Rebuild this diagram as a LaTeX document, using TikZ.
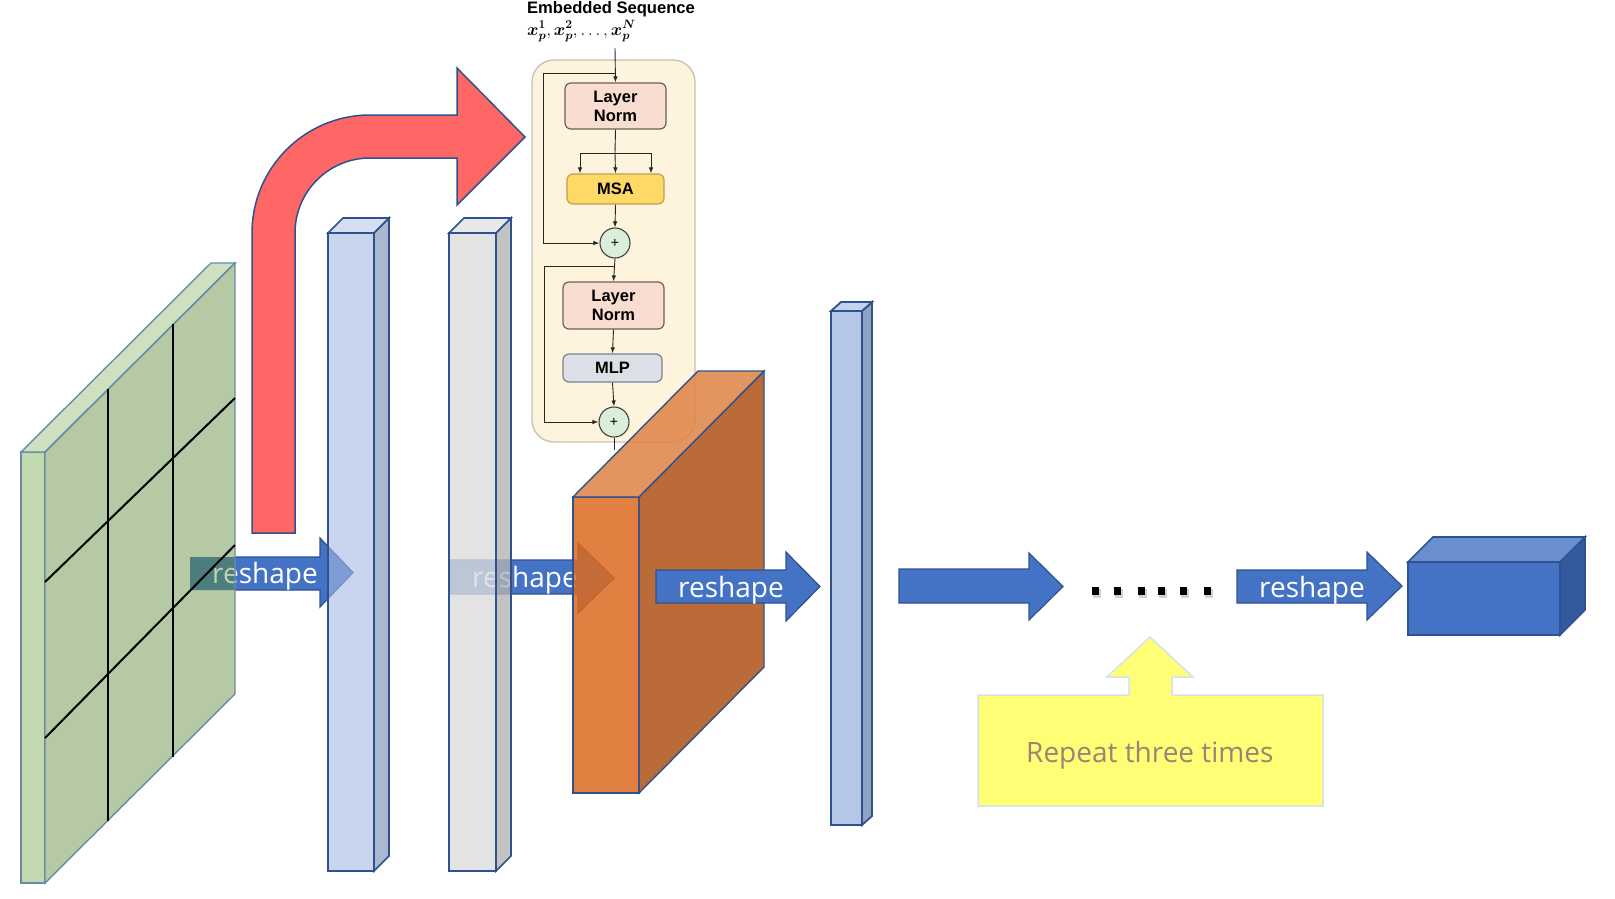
\documentclass[tikz,border=0pt]{standalone}
\usepackage{amsmath,bm}
\usepackage{fontspec}
\setmainfont{Open Sans}
\newfontfamily\osfont{Open Sans}
\newfontfamily\arialf{Liberation Sans}
\usetikzlibrary{arrows.meta}

\definecolor{edgeblue}{RGB}{47,82,143}
\definecolor{arrowblue}{RGB}{68,114,196}
\definecolor{redfill}{RGB}{255,102,102}
\definecolor{gfront}{RGB}{193,217,172}
\definecolor{gside}{RGB}{181,202,164}
\definecolor{gtop}{RGB}{205,225,190}
\definecolor{gedge}{RGB}{106,138,170}
\definecolor{tealc}{RGB}{78,125,125}
\definecolor{retext}{RGB}{192,212,178}
\definecolor{b1front}{RGB}{165,185,227}
\definecolor{b1side}{RGB}{118,138,175}
\definecolor{b1top}{RGB}{187,202,232}
\definecolor{gyfront}{RGB}{220,220,220}
\definecolor{gyside}{RGB}{180,180,180}
\definecolor{gytop}{RGB}{227,227,227}
\definecolor{ofront}{RGB}{220,106,31}
\definecolor{oside}{RGB}{174,82,21}
\definecolor{otop}{RGB}{223,131,68}
\definecolor{b3front}{RGB}{180,199,231}
\definecolor{b3side}{RGB}{143,163,199}
\definecolor{b3top}{RGB}{197,212,237}
\definecolor{fbtop}{RGB}{106,143,208}
\definecolor{fbside}{RGB}{51,90,158}
\definecolor{yellowc}{RGB}{255,255,117}
\definecolor{yedge}{RGB}{215,225,235}
\definecolor{reptext}{RGB}{158,130,120}
\definecolor{blockfill}{RGB}{254,243,221}
\definecolor{blockedge}{RGB}{200,195,185}
\definecolor{lnfill}{RGB}{248,221,208}
\definecolor{lnedge}{RGB}{110,95,90}
\definecolor{msafill}{RGB}{255,217,102}
\definecolor{msaedge}{RGB}{190,160,80}
\definecolor{mlpfill}{RGB}{220,224,230}
\definecolor{mlpedge}{RGB}{120,130,150}
\definecolor{plusfill}{RGB}{218,238,218}

% style-carrying prism: #1 front, #2 side, #3 top, x1 y1 x2 y2 dx dy
\newcommand\mkprism[9]{%
  \path[#1] (#4,#5) rectangle (#6,#7);
  \path[#2] (#6,#5) -- ++(#8,#9) -- ++(0,{#7-#5}) -- (#6,#7) -- cycle;
  \path[#3] (#4,#5) -- (#6,#5) -- ++(#8,#9) -- ++({#4-#6},0) -- cycle;}
% block arrow: style, x0, xhead, xtip, body top, body bottom, head top, head bottom
\newcommand\fatarr[8]{%
  \path[#1] (#2,#5) -- (#3,#5) -- (#3,#7) -- (#4,{(#7+#8)/2}) -- (#3,#8) -- (#3,#6) -- (#2,#6) -- cycle;}

\tikzset{
  bluearrow/.style={fill=arrowblue, draw=edgeblue, line width=1.2pt, line join=miter},
  rs/.style={font=\osfont\fontsize{28}{28}\selectfont, text=white, inner sep=0pt, anchor=base west},
  tline/.style={draw=black!85, line width=0.9pt},
  tarrow/.style={tline, -{Latex[length=6pt,width=4.5pt]}},
  tbox/.style={draw, rounded corners=6pt, line width=1.2pt, align=center, inner sep=0pt,
     font=\arialf\bfseries\fontsize{16.5}{19}\selectfont},
  plusc/.style={circle, draw=black!75, fill=plusfill, line width=1.1pt, minimum size=30pt,
     inner sep=0pt, font=\arialf\fontsize{14}{14}\selectfont},
}

\begin{document}
\begin{tikzpicture}[x=1pt,y=-1pt]
\useasboundingbox (0,0) rectangle (1615,898);
\fill[white] (0,0) rectangle (1615,898);

% ---- arrow 1 (under green slab) ----
\fatarr{bluearrow}{190}{320}{353}{557}{590}{538}{607}
\node[rs] (t1) at (212,583) {reshape};

% ---- green slab ----
\mkprism{fill=gfront,draw=gedge,line width=1.4pt}{fill=gside}{fill=gtop,draw=gedge,line width=1.4pt}{21}{452}{45}{883}{190}{-189}
\begin{scope}
  \clip (45,452) -- (235,263) -- (235,694) -- (45,883) -- cycle;
  \fatarr{fill=tealc}{190}{320}{353}{557}{590}{538}{607}
  \node[rs, text=retext] (t1b) at (212,583) {reshape};
\end{scope}
\draw[gedge, line width=1.4pt, line join=miter] (45,452) -- (235,263) -- (235,694) -- (45,883) -- cycle;
\draw[black, line width=2pt] (108,389) -- (108,821);
\draw[black, line width=2pt] (173,324) -- (173,757);
\draw[black, line width=2pt] (45,582) -- (235,398);
\draw[black, line width=2pt] (45,738) -- (235,545);

% ---- red curved arrow ----
\draw[fill=redfill, draw=edgeblue, line width=1.5pt, line join=miter]
  (252,533) -- (252,233) arc[start angle=180, end angle=270, radius=118]
  -- (457,115) -- (457,68) -- (525,137) -- (457,205) -- (457,158) -- (370,158)
  arc[start angle=270, end angle=180, radius=75] -- (295,533) -- cycle;

% ---- bar 1 (light blue, translucent) ----
\mkprism{fill=b1front,fill opacity=0.6,draw=edgeblue,line width=1.6pt}{fill=b1side,fill opacity=0.6,draw=edgeblue,line width=1.6pt}{fill=b1top,fill opacity=0.6,draw=edgeblue,line width=1.6pt}{328}{233}{374}{871}{15}{-15}

% ---- arrow 2 (under grey bar and orange block) ----
\fatarr{bluearrow}{450}{578}{614}{560}{594}{543}{613}
\node[rs] (t2) at (472,587) {reshape};

% ---- grey bar (translucent) ----
\mkprism{fill=gyfront,fill opacity=0.8,draw=edgeblue,line width=1.6pt}{fill=gyside,fill opacity=0.8,draw=edgeblue,line width=1.6pt}{fill=gytop,fill opacity=0.8,draw=edgeblue,line width=1.6pt}{449}{233}{496}{871}{15}{-15}

% ---- transformer block ----
\node[draw=blockedge, fill=blockfill, rounded corners=22pt, line width=1.4pt,
      minimum width=163pt, minimum height=382pt, inner sep=0pt] (block) at (613.5,251) {};
\node[font=\arialf\bfseries\fontsize{16.6}{16.6}\selectfont, anchor=base, inner sep=0pt] (title) at (611,13) {Embedded Sequence};
\node[font=\fontsize{18}{18}\selectfont, anchor=base west, inner sep=0pt] (seq) at (527,35) {$\bm{x}_{\bm{p}}^{\bm{1}}, \bm{x}_{\bm{p}}^{\bm{2}}, \ldots, \bm{x}_{\bm{p}}^{\bm{N}}$};
\node[tbox, fill=lnfill, draw=lnedge, minimum width=101pt, minimum height=46pt] (ln1) at (615.5,106) {Layer\\Norm};
\node[tbox, fill=msafill, draw=msaedge, minimum width=97pt, minimum height=30pt] (msa) at (615.5,189) {MSA};
\node[plusc] (p1) at (615,243) {+};
\node[tbox, fill=lnfill, draw=lnedge, minimum width=101pt, minimum height=47pt] (ln2) at (613.5,305.5) {Layer\\Norm};
\node[tbox, fill=mlpfill, draw=mlpedge, minimum width=99pt, minimum height=28pt] (mlp) at (612.5,368) {MLP};
\node[plusc] (p2) at (614,422) {+};

\coordinate (in) at (615,48);
\coordinate (s1) at (615,73);
\coordinate (s1l) at (543,73);
\coordinate (br) at (615,153);
\coordinate (bl) at (580,153);
\coordinate (brr) at (651,153);
\coordinate (s2) at (614,266);
\coordinate (s2l) at (544,266);
\coordinate (out) at (614,450);

\draw[tarrow] (in) -- (ln1.north);
\draw[tarrow] (s1) -- (s1l) |- (p1.west);
\draw[tline] (ln1.south) -- (br);
\draw[tline] (bl) -- (brr);
\draw[tarrow] (br) -- (msa.north);
\draw[tarrow] (bl) -- (bl |- msa.north);
\draw[tarrow] (brr) -- (brr |- msa.north);
\draw[tarrow] (msa.south) -- (p1.north);
\draw[tarrow] (p1.south) -- (ln2.north);
\draw[tarrow] (s2) -- (s2l) |- (p2.west);
\draw[tarrow] (ln2.south) -- (mlp.north);
\draw[tarrow] (mlp.south) -- (p2.north);
\draw[tline] (p2.south) -- (out);

% ---- orange block (translucent) ----
\mkprism{fill=ofront,fill opacity=0.85,draw=edgeblue,line width=1.4pt}{fill=oside,fill opacity=0.85,draw=edgeblue,line width=1.4pt}{fill=otop,fill opacity=0.85,draw=edgeblue,line width=1.4pt}{573}{497}{639}{793}{125}{-126}

% ---- arrow 3 ----
\fatarr{bluearrow}{656}{786}{820}{570}{603}{552}{621}
\node[rs] (t3) at (678,597) {reshape};

% ---- bar 3 ----
\mkprism{fill=b3front,draw=edgeblue,line width=1.8pt}{fill=b3side,draw=edgeblue,line width=1.8pt}{fill=b3top,draw=edgeblue,line width=1.8pt}{831}{311}{862}{825}{10}{-9}

% ---- arrow 4 ----
\fatarr{bluearrow}{899}{1029}{1063}{569}{603}{553}{620}

% ---- dots ----
\foreach \x in {1095,1117,1141,1161,1183,1207} {
  \fill[black!35, opacity=0.5] (\x-2,589) rectangle (\x+5.5,598);
  \fill[black] (\x-3.5,587) rectangle (\x+3.5,595);
}

% ---- yellow callout ----
\draw[fill=yellowc, draw=yedge, line width=1.5pt, line join=miter]
  (978,695) -- (1129,695) -- (1129,677) -- (1107,677) -- (1150,637) -- (1193,677)
  -- (1172,677) -- (1172,695) -- (1323,695) -- (1323,806) -- (978,806) -- cycle;
\node[font=\osfont\fontsize{28}{28}\selectfont, text=reptext, anchor=base west, inner sep=0pt] (rep) at (1026,762) {Repeat three times};

% ---- arrow 5 ----
\fatarr{bluearrow}{1237}{1367}{1402}{570}{603}{552}{620}
\node[rs] (t5) at (1259,597) {reshape};

% ---- final box ----
\mkprism{fill=arrowblue,draw=edgeblue,line width=1.6pt}{fill=fbside,draw=edgeblue,line width=1.6pt}{fill=fbtop,draw=edgeblue,line width=1.6pt}{1408}{562}{1560}{635}{25}{-25}
\end{tikzpicture}
\end{document}
